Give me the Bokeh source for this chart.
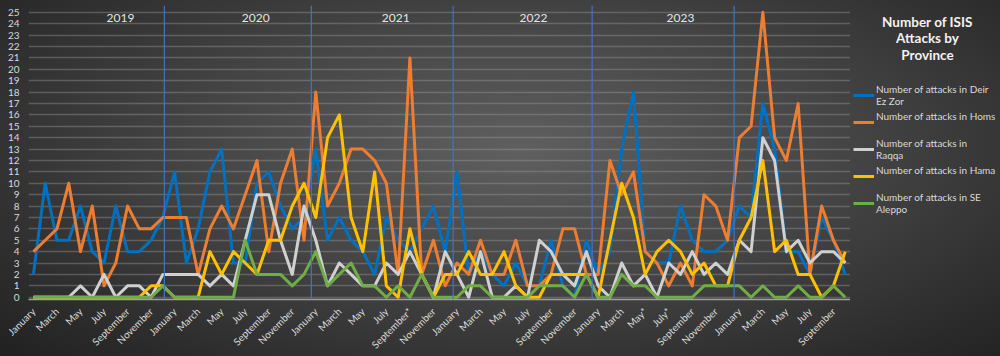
import math
from bokeh.plotting import figure
from bokeh.layouts import row
from bokeh.models import Span, Label, Legend, LegendItem, FixedTicker
from bokeh.embed import file_html
from bokeh.resources import INLINE

month_names = ["January", "February", "March", "April", "May", "June", "July",
               "August", "September", "October", "November", "December"]
months = []
for yr in range(2019, 2025):
    for m in month_names:
        months.append(m)
months = months[:70]
months[32] = "September*"
months[52] = "May*"
months[54] = "July*"

years = ["2019", "2020", "2021", "2022", "2023"]

deir_ez_zor = [2, 10, 5, 5, 8, 4, 3, 8, 4, 4, 5, 7,
               11, 3, 6, 11, 13, 3, 3, 10, 11, 8, 6, 7,
               13, 5, 7, 5, 4, 2, 7, 5, 4, 6, 8, 4,
               11, 2, 4, 2, 1, 3, 1, 1, 5, 1, 0, 5,
               2, 4, 13, 18, 4, 3, 3, 8, 5, 4, 4, 5,
               8, 7, 17, 13, 4, 4, 2, 7, 5, 2]
homs = [4, 5, 6, 10, 4, 8, 1, 3, 8, 6, 6, 7,
        7, 7, 2, 6, 8, 6, 9, 12, 4, 10, 13, 5,
        18, 8, 10, 13, 13, 12, 10, 2, 21, 2, 5, 1,
        3, 2, 5, 2, 2, 5, 1, 1, 2, 6, 6, 2,
        2, 12, 9, 11, 4, 3, 1, 3, 1, 9, 8, 5,
        14, 15, 25, 14, 12, 17, 2, 8, 5, 3]
raqqa = [0, 0, 0, 0, 1, 0, 2, 0, 1, 1, 0, 2,
         2, 2, 2, 1, 2, 1, 5, 9, 9, 5, 2, 8,
         5, 1, 3, 2, 1, 1, 3, 2, 4, 2, 0, 4,
         2, 0, 4, 0, 0, 1, 0, 5, 4, 2, 1, 4,
         1, 0, 3, 1, 2, 0, 3, 2, 4, 2, 3, 2,
         5, 4, 14, 12, 4, 5, 3, 4, 4, 3]
hama = [0, 0, 0, 0, 0, 0, 0, 0, 0, 0, 1, 1,
        0, 0, 0, 4, 2, 4, 3, 2, 5, 5, 8, 10,
        7, 14, 16, 7, 4, 11, 1, 0, 6, 2, 0, 2,
        2, 4, 2, 2, 4, 1, 0, 0, 2, 2, 2, 2,
        0, 5, 10, 7, 2, 4, 5, 4, 2, 3, 1, 1,
        5, 7, 12, 4, 5, 2, 2, 0, 1, 4]
se_aleppo = [0, 0, 0, 0, 0, 0, 0, 0, 0, 0, 0, 1,
             0, 0, 0, 0, 0, 0, 5, 2, 2, 2, 1, 2,
             4, 1, 2, 3, 1, 1, 0, 1, 0, 2, 0, 0,
             0, 1, 1, 0, 0, 0, 0, 1, 1, 1, 0, 2,
             0, 0, 2, 1, 1, 0, 0, 0, 0, 1, 1, 1,
             1, 0, 1, 0, 0, 1, 0, 0, 1, 0]

series_labels = ["Number of attacks in Deir\nEz Zor",
                 "Number of attacks in Homs\n ",
                 "Number of attacks in\nRaqqa",
                 "Number of attacks in Hama\n ",
                 "Number of attacks in SE\nAleppo"]
series_colors = ["#0070c0", "#ed7d31", "#d0d0d0", "#ffc000", "#70ad47"]
chart_title = "Number of ISIS\nAttacks by\nProvince"

x = list(range(len(months)))

# ---- main chart ----
p = figure(frame_width=822, frame_height=294, output_backend="svg", toolbar_location=None,
           x_range=(-0.42, 69.45), y_range=(-0.2, 25.6),
           min_border_left=28, min_border_right=0, min_border_top=5,
           min_border_bottom=57)
p.background_fill_color = None
p.border_fill_color = None
p.outline_line_color = None

p.yaxis.ticker = FixedTicker(ticks=list(range(0, 26)))
p.yaxis.axis_line_color = None
p.yaxis.major_tick_line_color = None
p.yaxis.minor_tick_line_color = None
p.yaxis.major_label_text_color = "#d9d9d9"
p.yaxis.major_label_text_font_size = "10px"
p.yaxis.major_label_text_font = "Lato"
p.yaxis.major_label_standoff = 3

p.xaxis.ticker = FixedTicker(ticks=list(range(0, len(months), 2)))
p.xaxis.major_label_overrides = {i: months[i] for i in range(0, len(months), 2)}
p.xaxis.major_label_orientation = math.pi / 4
p.xaxis.axis_line_color = "#a0a0a0"
p.xaxis.axis_line_width = 1.5
p.xaxis.major_tick_line_color = None
p.xaxis.minor_tick_line_color = None
p.xaxis.major_label_text_color = "#d9d9d9"
p.xaxis.major_label_text_font_size = "10px"
p.xaxis.major_label_text_font = "Lato"
p.xaxis.major_label_standoff = 4

p.xgrid.grid_line_color = None
p.ygrid.grid_line_color = "#a0a0a0"
p.ygrid.grid_line_alpha = 0.38
p.ygrid.grid_line_width = 1.5

for loc in [11.13, 23.62, 35.68, 47.49, 59.56]:
    p.add_layout(Span(location=loc, dimension="height", line_color="#4472c4", line_width=1.2))

for yr, xp in zip(years, [7.4, 18.9, 30.8, 42.5, 55.0]):
    p.add_layout(Label(x=xp, y=24.5, text=yr, text_color="#e6e6e6", text_font_size="12px",
                       text_font="Lato", text_align="center", text_baseline="middle"))

for vals, col in zip([deir_ez_zor, homs, raqqa, hama, se_aleppo], series_colors):
    p.line(x, vals, line_color=col, line_width=3, line_join="round")

# ---- legend panel (frame aligned with the main chart's frame) ----
q = figure(width=150, height=356, output_backend="svg", toolbar_location=None,
           x_range=(0, 1), y_range=(0, 1), min_border=0)
q.axis.visible = False
q.grid.visible = False
q.background_fill_color = None
q.border_fill_color = None
q.outline_line_color = None

items = []
for lab, col in zip(series_labels, series_colors):
    r = q.line(x=[math.nan], y=[math.nan], line_color=col, line_width=3)
    items.append(LegendItem(label=lab, renderers=[r]))

q.add_layout(Label(x=77, y=285, x_units="screen", y_units="screen", text=chart_title,
                   text_color="#f2f2f2", text_font_style="bold", text_font_size="13.5px",
                   text_font="Lato", text_align="center", text_baseline="top",
                   text_line_height=1.05))

legend = Legend(items=items, location=(3, 82))
legend.background_fill_alpha = 0
legend.border_line_color = None
legend.label_text_color = "#d9d9d9"
legend.label_text_font_size = "10px"
legend.label_text_font = "Lato"
legend.label_text_line_height = 1.25
legend.glyph_width = 21
legend.label_standoff = 2
legend.padding = 0
legend.margin = 0
legend.spacing = 0
legend.label_height = 27
legend.glyph_height = 14
q.add_layout(legend)

layout = row(p, q)
layout.styles = {"background": "radial-gradient(ellipse 75% 85% at 52% 42%, #5f5f5f 0%, #474747 40%, #2f2f2f 75%, #1f1f1f 100%)"}

open("out.html", "w").write(file_html(layout, INLINE))
